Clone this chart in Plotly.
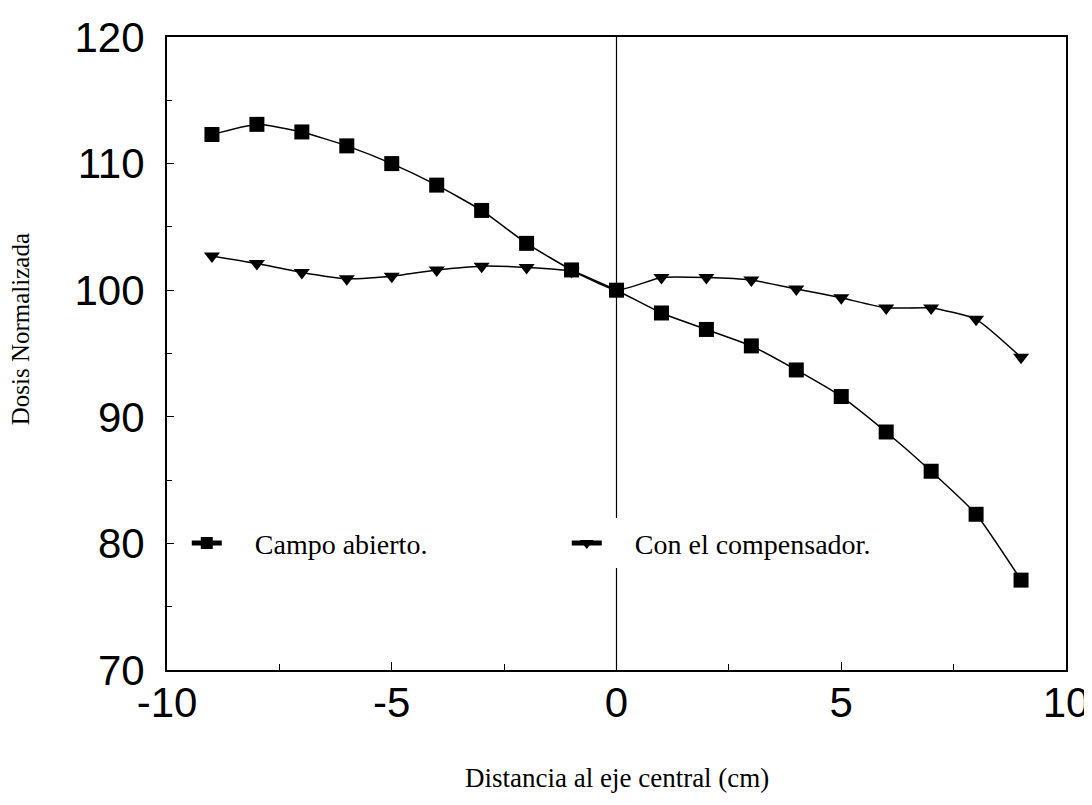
import plotly.graph_objects as go

distancia = [-9, -8, -7, -6, -5, -4, -3, -2, -1, 0, 1, 2, 3, 4, 5, 6, 7, 8, 9]
campo_abierto = [112.3, 113.1, 112.5, 111.4, 110.0, 108.3, 106.3, 103.7, 101.6, 100.0,
                 98.2, 96.9, 95.6, 93.7, 91.6, 88.8, 85.7, 82.3, 77.1]
con_compensador = [102.7, 102.1, 101.4, 100.9, 101.1, 101.6, 101.9, 101.8, 101.5, 100.0,
                   101.0, 101.0, 100.8, 100.1, 99.4, 98.6, 98.6, 97.7, 94.7]

x_ticks = [-10, -5, 0, 5, 10]
y_ticks = [70, 80, 90, 100, 110, 120]

fig = go.Figure()
fig.add_trace(go.Scatter(
    x=distancia, y=campo_abierto, name="&nbsp;&nbsp;&nbsp;&nbsp;Campo abierto.",
    mode="lines+markers",
    line=dict(color="black", width=1.5, shape="spline", smoothing=0.5),
    marker=dict(symbol="square", size=15, color="black"),
))
fig.add_trace(go.Scatter(
    x=distancia, y=con_compensador, name="&nbsp;&nbsp;&nbsp;&nbsp;Con el compensador.",
    mode="lines+markers",
    line=dict(color="black", width=1.5, shape="spline", smoothing=0.5),
    marker=dict(symbol="triangle-down", size=14, color="black"),
))

fig.add_shape(type="line", xref="x", yref="paper", x0=0, x1=0, y0=0, y1=1,
              line=dict(color="black", width=1.2), layer="below")

sans = "Liberation Sans, Arial, sans-serif"
serif = "Liberation Serif, Times New Roman, serif"

# page body adds an ~8px offset; compensate so the plot lands where the reference has it
fig.update_layout(
    width=1084, height=797,
    margin=dict(l=159, r=26, t=29, b=135),
    paper_bgcolor="white", plot_bgcolor="white",
    showlegend=True,
    legend=dict(
        orientation="h", x=0.022, y=0.20, xanchor="left", yanchor="middle",
        bgcolor="white", borderwidth=0,
        font=dict(family=serif, size=28, color="black"),
        entrywidth=335, entrywidthmode="pixels",
        itemsizing="constant",
    ),
    xaxis=dict(
        range=[-10, 10], tickvals=x_ticks, ticktext=[str(v) for v in x_ticks],
        showgrid=False, zeroline=False, automargin=False,
        showline=True, linecolor="black", linewidth=2, mirror=True,
        ticks="inside", ticklen=8, tickwidth=1, tickcolor="black",
        minor=dict(dtick=2.5, ticks="inside", ticklen=6, tickcolor="black", showgrid=False),
        tickfont=dict(family=sans, size=42, color="black"),
        ticklabelstandoff=-5,
    ),
    yaxis=dict(
        range=[70, 120], tickvals=y_ticks, ticktext=[str(v) for v in y_ticks],
        showgrid=False, zeroline=False, automargin=False,
        showline=True, linecolor="black", linewidth=2, mirror=True,
        ticks="inside", ticklen=7, tickwidth=1, tickcolor="black",
        minor=dict(dtick=5, ticks="inside", ticklen=5, tickcolor="black", showgrid=False),
        tickfont=dict(family=sans, size=42, color="black"),
        ticklabelstandoff=12,
    ),
    annotations=[
        dict(text="Dosis Normalizada", xref="paper", yref="paper",
             x=-0.163, y=0.539, xanchor="center", yanchor="middle",
             textangle=-90, showarrow=False,
             font=dict(family=serif, size=25, color="black")),
        dict(text="Distancia al eje central (cm)", xref="paper", yref="paper",
             x=0.5, y=-0.1706, xanchor="center", yanchor="middle",
             showarrow=False,
             font=dict(family=serif, size=27, color="black")),
    ],
)

fig.write_html("out.html")
